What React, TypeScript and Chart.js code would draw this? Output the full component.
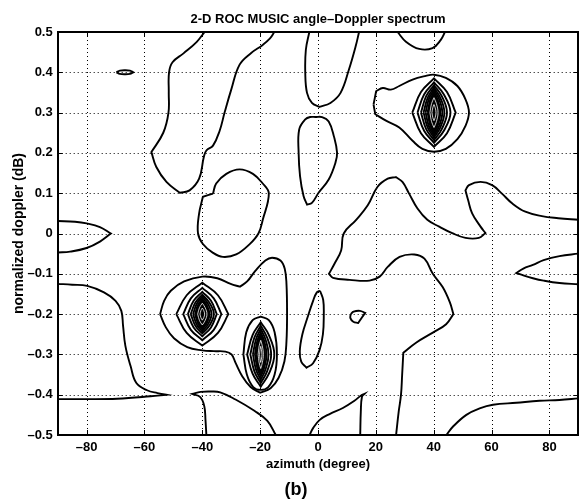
import { useEffect, useRef } from 'react';
import { Chart, registerables } from 'chart.js';

Chart.register(...registerables);

// ---------- text ----------
const chartTitle = '2-D ROC MUSIC angle–Doppler spectrum';
const xAxisTitle = 'azimuth (degree)';
const yAxisTitle = 'normalized doppler (dB)';
const panelLabel = '(b)';

// ---------- axes ----------
const xRange = [-90, 90];
const yRange = [-0.5, 0.5];
const xTicks = [-80, -60, -40, -20, 0, 20, 40, 60, 80];
const xTickLabels = ['–80', '–60', '–40', '–20', '0', '20', '40', '60', '80'];
const yTicks = [0.5, 0.4, 0.3, 0.2, 0.1, 0, -0.1, -0.2, -0.3, -0.4, -0.5];
const yTickLabels = ['0.5', '0.4', '0.3', '0.2', '0.1', '0', '–0.1', '–0.2', '–0.3', '–0.4', '–0.5'];

type P = [number, number];

// ---------- contour lines (azimuth, doppler) ----------
const leftLens: P[] = [[-90, 0.031], [-84, 0.029], [-80, 0.025], [-75.4, 0.016], [-71.6, 0], [-75.4, -0.02], [-80, -0.036], [-85.7, -0.045], [-90, -0.047]];
const smallEllipse: P[] = [[-69.7, 0.4], [-68.5, 0.404], [-66.8, 0.405], [-65, 0.404], [-63.9, 0.4], [-65, 0.396], [-66.8, 0.395], [-68.5, 0.396], [-69.7, 0.4]];
const topLeftU: P[] = [[-39.2, 0.5], [-42, 0.475], [-46.5, 0.447], [-50.3, 0.425], [-51.5, 0.4], [-51.6, 0.35], [-51.7, 0.3], [-53.5, 0.25], [-57.6, 0.202], [-55.9, 0.165], [-52.4, 0.128], [-47.8, 0.101], [-44.4, 0.107], [-41.1, 0.136], [-39.5, 0.189], [-38.6, 0.206], [-36.3, 0.218], [-34, 0.255], [-32.3, 0.3], [-30, 0.357], [-27.1, 0.419], [-23.1, 0.448], [-19.1, 0.468], [-16.6, 0.484], [-15.1, 0.5]];
const upperLeftBlob: P[] = [[-36.3, 0.099], [-39.8, 0.091], [-41.1, 0.05], [-41.5, 0.001], [-39.8, -0.026], [-36.3, -0.048], [-32.9, -0.058], [-28.3, -0.052], [-23.7, -0.027], [-20.6, 0], [-19.1, 0.034], [-17, 0.099], [-19.1, 0.124], [-22.5, 0.148], [-27.1, 0.159], [-31.7, 0.148], [-35.2, 0.124], [-36.3, 0.099]];
const centreBlob: P[] = [[-0.9, 0.289], [1.4, 0.289], [3.7, 0.278], [5.5, 0.241], [6.6, 0.2], [6, 0.175], [3.7, 0.134], [0.2, 0.101], [-2.1, 0.076], [-3.8, 0.072], [-5, 0.093], [-6.2, 0.142], [-6.7, 0.2], [-6.5, 0.258], [-4.4, 0.283], [-2.7, 0.289], [-0.9, 0.289]];
const topCentreU: P[] = [[-3, 0.5], [-4.2, 0.456], [-4.4, 0.398], [-3.8, 0.349], [-2.1, 0.324], [0.5, 0.314], [4.3, 0.324], [7.8, 0.349], [10.7, 0.407], [13, 0.464], [14.2, 0.5]];
const topDome: P[] = [[27.5, 0.5], [30.4, 0.476], [35, 0.458], [39.6, 0.46], [42.4, 0.48], [43.9, 0.5]];
const peak40Outer: P[] = [[19.2, 0.32], [20.1, 0.353], [22.4, 0.361], [25.2, 0.357], [28.1, 0.366], [32.7, 0.382], [37.3, 0.391], [40.1, 0.394], [44.2, 0.386], [48.2, 0.366], [51, 0.333], [52.2, 0.3], [51, 0.267], [48.2, 0.234], [44.2, 0.21], [40.1, 0.203], [36.1, 0.21], [32.7, 0.23], [28.1, 0.263], [23.5, 0.28], [19.8, 0.296], [19.2, 0.32]];
const lowerPeaksOuter: P[] = [[-54.6, -0.2], [-53.2, -0.167], [-50.9, -0.142], [-46.3, -0.119], [-40, -0.107], [-34.8, -0.111], [-30.2, -0.125], [-27, -0.132], [-24.5, -0.119], [-21.6, -0.092], [-18.2, -0.067], [-15.9, -0.06], [-13, -0.067], [-11.5, -0.0875], [-10.9, -0.125], [-10.7, -0.2], [-10.9, -0.267], [-11.6, -0.317], [-13.6, -0.358], [-16.4, -0.384], [-20, -0.395], [-23.3, -0.381], [-26.2, -0.354], [-28.5, -0.321], [-29.9, -0.3], [-32, -0.293], [-36, -0.292], [-40, -0.29], [-45.2, -0.282], [-49.8, -0.26], [-52.6, -0.233], [-54.6, -0.2]];
const peakM20Outer: P[] = [[-25.8, -0.3], [-24.8, -0.245], [-22.6, -0.215], [-19.8, -0.206], [-17, -0.215], [-15, -0.245], [-14.2, -0.3], [-15, -0.35], [-17.2, -0.381], [-19.8, -0.388], [-22.4, -0.381], [-24.6, -0.35], [-25.8, -0.3]];
const slimBlob: P[] = [[0.7, -0.142], [1.8, -0.165], [2, -0.2], [1.7, -0.25], [0.5, -0.29], [-1.7, -0.322], [-4, -0.333], [-5.8, -0.318], [-6.3, -0.292], [-5.4, -0.25], [-3.6, -0.208], [-1.7, -0.167], [-0.4, -0.146], [0.7, -0.142]];
const smallLoop: P[] = [[11.3, -0.2], [12.3, -0.194], [14.5, -0.192], [16.3, -0.197], [15.3, -0.207], [13.9, -0.222], [12.2, -0.219], [11.2, -0.21], [11.3, -0.2]];
const windingContour: P[] = [[27, -0.5], [27.9, -0.442], [28.7, -0.4], [29.1, -0.35], [29.5, -0.296], [33.9, -0.271], [39.7, -0.246], [44.3, -0.225], [46.8, -0.2], [45.6, -0.171], [43.1, -0.133], [39.7, -0.1], [36.8, -0.0625], [33.3, -0.052], [28.2, -0.058], [24.1, -0.083], [21.3, -0.107], [17.8, -0.117], [10.9, -0.115], [5.2, -0.11], [3.8, -0.1], [5.7, -0.075], [8, -0.042], [8.9, 0], [13.2, 0.034], [17.2, 0.07], [20.6, 0.116], [24.1, 0.136], [26.9, 0.14], [29.2, 0.128], [31.5, 0.099], [34.4, 0.062], [37.8, 0.034], [41.9, 0.017], [46.4, 0.001], [51, -0.011], [55.6, -0.011], [57.9, 0.001], [56.2, 0.017], [53.3, 0.05], [51.9, 0.083], [51, 0.107], [52.2, 0.12], [56.2, 0.128], [60.2, 0.12], [63.6, 0.099], [67.1, 0.075], [71.7, 0.054], [77.4, 0.043], [83.1, 0.038], [90, 0.034]];
const leftBoundary: P[] = [[-90, -0.125], [-85, -0.127], [-79.8, -0.13], [-74, -0.146], [-70, -0.167], [-68, -0.192], [-67.4, -0.229], [-66.6, -0.279], [-64.8, -0.329], [-62.8, -0.371], [-59.1, -0.389], [-55.5, -0.396], [-52.5, -0.4], [-57.9, -0.404], [-69.4, -0.41], [-80.9, -0.411], [-90, -0.411]];
const bottomLeftFork: P[] = [[-38.6, -0.5], [-38.9, -0.463], [-39.3, -0.429], [-40.7, -0.406], [-43.5, -0.398], [-40.6, -0.393], [-37.2, -0.392], [-33.8, -0.394], [-28.5, -0.412], [-22, -0.44], [-17.5, -0.465], [-14.6, -0.5]];
const bottomCentreHook: P[] = [[-2.9, -0.5], [-1.7, -0.483], [0.6, -0.4625], [4, -0.448], [8.6, -0.433], [12.6, -0.415], [14.9, -0.402], [16.1, -0.398], [15.2, -0.405], [14.8, -0.442], [14.6, -0.5]];
const bottomRight: P[] = [[44.4, -0.5], [46.7, -0.479], [51.3, -0.45], [55.9, -0.434], [60.5, -0.425], [68.6, -0.42], [76.6, -0.415], [83.5, -0.413], [90, -0.409]];
const rightLens: P[] = [[90, -0.05], [83.5, -0.056], [78, -0.066], [74.3, -0.078], [71, -0.087], [68.6, -0.098], [71, -0.104], [74.3, -0.111], [78, -0.117], [83.5, -0.123], [90, -0.126]];

const plainContours: P[][] = [leftLens, smallEllipse, topLeftU, upperLeftBlob, centreBlob, topCentreU, topDome, peak40Outer, lowerPeaksOuter, peakM20Outer, slimBlob, smallLoop, windingContour, leftBoundary, bottomLeftFork, bottomCentreHook, bottomRight, rightLens];

// ---------- the three sharp peaks: centres and nested level extents ----------
const peakCentreX = [-40, -19.8, 40.1];
const peakCentreY = [-0.2, -0.3, 0.3];
const peakLoopHalfWidths = [[9, 6.6, 5, 4, 3.2], [4.7, 3.6, 2.7, 2.0], [7.5, 5.7, 4.5, 3.6, 2.9]];
const peakLoopHalfHeights = [[0.078, 0.065, 0.055, 0.048, 0.043], [0.08, 0.071, 0.063, 0.055], [0.085, 0.075, 0.068, 0.062, 0.057]];
const peakCoreHalfWidth = [2.5, 1.5, 2.2];
const peakCoreHalfHeight = [0.038, 0.049, 0.052];
const peakInnerHalfWidths = [[1.6, 0.8], [0.9, 0.4], [1.4, 0.7]];
const peakInnerHalfHeights = [[0.027, 0.015], [0.035, 0.02], [0.037, 0.02]];

// plot-area pixel scale used only to judge where a traced line turns sharply
const PX_PER_X = 520.6 / 180;
const PX_PER_Y = 403;

function diamond(cx: number, cy: number, hw: number, hh: number): P[] {
  const k = 0.6;
  return [
    [cx - hw, cy], [cx - hw * k, cy + hh * k], [cx, cy + hh], [cx + hw * k, cy + hh * k],
    [cx + hw, cy], [cx + hw * k, cy - hh * k], [cx, cy - hh], [cx - hw * k, cy - hh * k], [cx - hw, cy],
  ];
}

function toPoints(pts: P[]) {
  const out: { x: number; y: number }[] = [];
  pts.forEach((p, i) => {
    out.push({ x: p[0], y: p[1] });
    if (i > 0 && i < pts.length - 1) {
      const a = pts[i - 1];
      const c = pts[i + 1];
      const v1x = (p[0] - a[0]) * PX_PER_X, v1y = (p[1] - a[1]) * PX_PER_Y;
      const v2x = (c[0] - p[0]) * PX_PER_X, v2y = (c[1] - p[1]) * PX_PER_Y;
      const cos = (v1x * v2x + v1y * v2y) / (Math.hypot(v1x, v1y) * Math.hypot(v2x, v2y) || 1);
      if (cos < 0.7) out.push({ x: p[0], y: p[1] }); // sharp corner: repeat point so the spline keeps the tip
    }
  });
  return out;
}

function lineSet(pts: P[], color = '#000', width = 1.9, filled = false) {
  return {
    data: toPoints(pts),
    showLine: true,
    borderColor: color,
    backgroundColor: color,
    borderWidth: width,
    pointRadius: 0,
    pointHoverRadius: 0,
    tension: 0.4,
    fill: filled ? 'shape' : false,
  };
}

const FONT = '"Liberation Sans", Arial, Helvetica, sans-serif';

const decorPlugin = {
  id: 'decor',
  beforeDatasetsDraw(chart: any) {
    const { ctx, chartArea: a, scales } = chart;
    ctx.save();
    ctx.strokeStyle = '#000';
    ctx.lineWidth = 1;
    ctx.setLineDash([1, 3]);
    xTicks.forEach((v) => {
      const p = Math.round(scales.x.getPixelForValue(v)) + 0.5;
      ctx.beginPath(); ctx.moveTo(p, a.top); ctx.lineTo(p, a.bottom); ctx.stroke();
    });
    yTicks.forEach((v) => {
      const p = Math.round(scales.y.getPixelForValue(v)) + 0.5;
      ctx.beginPath(); ctx.moveTo(a.left, p); ctx.lineTo(a.right, p); ctx.stroke();
    });
    ctx.restore();
  },
  afterDatasetsDraw(chart: any) {
    const { ctx, chartArea: a, scales } = chart;
    ctx.save();
    ctx.strokeStyle = '#000';
    ctx.setLineDash([]);
    ctx.lineWidth = 1;
    const tl = 5;
    xTicks.forEach((v) => {
      const p = Math.round(scales.x.getPixelForValue(v)) + 0.5;
      ctx.beginPath();
      ctx.moveTo(p, a.bottom); ctx.lineTo(p, a.bottom - tl);
      ctx.moveTo(p, a.top); ctx.lineTo(p, a.top + tl);
      ctx.stroke();
    });
    yTicks.forEach((v) => {
      const p = Math.round(scales.y.getPixelForValue(v)) + 0.5;
      ctx.beginPath();
      ctx.moveTo(a.left, p); ctx.lineTo(a.left + tl, p);
      ctx.moveTo(a.right, p); ctx.lineTo(a.right - tl, p);
      ctx.stroke();
    });
    ctx.lineWidth = 2;
    ctx.strokeRect(Math.round(a.left), Math.round(a.top), Math.round(a.right) - Math.round(a.left), Math.round(a.bottom) - Math.round(a.top));
    ctx.restore();
  },
  afterDraw(chart: any) {
    const { ctx, chartArea: a } = chart;
    const cx = (a.left + a.right) / 2;
    ctx.save();
    ctx.fillStyle = '#000';
    ctx.textAlign = 'center';
    ctx.textBaseline = 'alphabetic';
    ctx.font = `bold 13px ${FONT}`;
    ctx.fillText(chartTitle, cx, 22.5);
    ctx.fillText(xAxisTitle, cx, 467.5);
    ctx.font = `bold 18px ${FONT}`;
    ctx.fillText(panelLabel, 296, 494.5);
    ctx.font = `bold 14px ${FONT}`;
    ctx.translate(23, (a.top + a.bottom) / 2);
    ctx.rotate(-Math.PI / 2);
    ctx.fillText(yAxisTitle, 0, 0);
    ctx.restore();
  },
};

export default function App() {
  const ref = useRef<HTMLCanvasElement>(null);

  useEffect(() => {
    const datasets: any[] = plainContours.map((c) => lineSet(c));
    peakCentreX.forEach((cx, i) => {
      const cy = peakCentreY[i];
      peakLoopHalfWidths[i].forEach((hw, j) => {
        datasets.push(lineSet(diamond(cx, cy, hw, peakLoopHalfHeights[i][j])));
      });
      datasets.push(lineSet(diamond(cx, cy, peakCoreHalfWidth[i], peakCoreHalfHeight[i]), '#000', 1.9, true));
      peakInnerHalfWidths[i].forEach((hw, j) => {
        datasets.push(lineSet(diamond(cx, cy, hw, peakInnerHalfHeights[i][j]), '#fff', 0.8));
      });
    });
    const n = datasets.length;
    datasets.forEach((d, i) => { d.order = n - i; });

    const tickFont = { family: FONT, size: 13, weight: 'bold' as const };

    const chart = new Chart(ref.current!, {
      type: 'scatter',
      data: { datasets },
      plugins: [decorPlugin],
      options: {
        animation: false,
        responsive: false,
        devicePixelRatio: 1,
        events: [],
        layout: { padding: { top: 32, right: 4.7, left: 0, bottom: 0 } },
        plugins: { legend: { display: false }, tooltip: { enabled: false }, title: { display: false } },
        scales: {
          x: {
            type: 'linear',
            min: xRange[0],
            max: xRange[1],
            afterBuildTicks: (s: any) => { s.ticks = xTicks.map((v) => ({ value: v })); },
            afterFit: (s: any) => { s.height = 67; },
            grid: { display: false, drawTicks: false },
            border: { display: false },
            ticks: {
              autoSkip: false, maxRotation: 0, padding: 5, color: '#000', font: tickFont,
              callback: (_v: any, i: number) => xTickLabels[i],
            },
          },
          y: {
            type: 'linear',
            min: yRange[0],
            max: yRange[1],
            afterBuildTicks: (s: any) => { s.ticks = [...yTicks].reverse().map((v) => ({ value: v })); },
            afterFit: (s: any) => { s.width = 57.7; },
            grid: { display: false, drawTicks: false },
            border: { display: false },
            ticks: {
              autoSkip: false, padding: 5, color: '#000', font: tickFont,
              callback: (_v: any, i: number) => [...yTickLabels].reverse()[i],
            },
          },
        },
      } as any,
    });
    return () => chart.destroy();
  }, []);

  return (
    <div style={{ position: 'absolute', left: 0, top: 0, width: 583, height: 502, background: '#fff' }}>
      <canvas ref={ref} width={583} height={502} style={{ display: 'block', width: 583, height: 502 }} />
    </div>
  );
}
